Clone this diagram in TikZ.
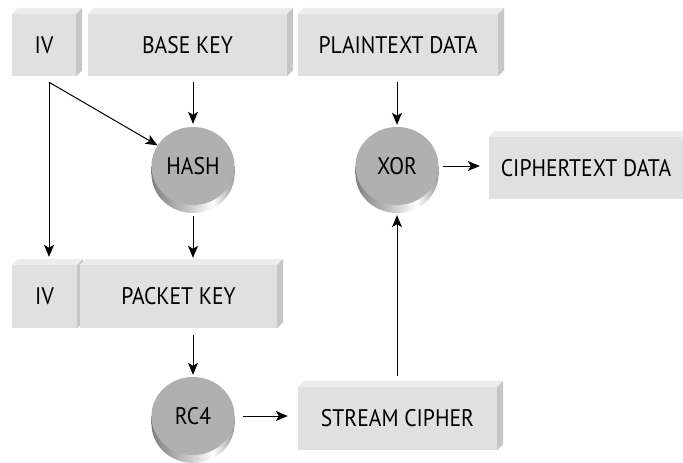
\documentclass[tikz,border=0pt]{standalone}
\usepackage{fontspec}
\setmainfont{PT Sans}[FakeStretch=0.9]
\usetikzlibrary{positioning, shapes.geometric, arrows.meta, backgrounds}
\definecolor{slabfront}{RGB}{224,224,224}
\definecolor{slabtop}{RGB}{236,236,236}
\definecolor{slabside}{RGB}{198,198,198}
\definecolor{disctop}{RGB}{176,176,176}
\pgfdeclarehorizontalshading{discside}{100bp}{color(0bp)=(black!50); color(25bp)=(black!50); color(45bp)=(black!25); color(62bp)=(white); color(75bp)=(black!40); color(100bp)=(black!40)}

\begin{document}
\begin{tikzpicture}[x=1pt, y=-1pt]
            \tikzset{slab/.style = {rectangle, fill=slabfront, minimum height=62pt, inner sep=0pt, font=\fontsize{24}{28}\selectfont}}
            \tikzset{disc/.style = {ellipse, fill=disctop, minimum width=83pt, minimum height=78pt, inner sep=0pt, font=\fontsize{24}{28}\selectfont}}
            \tikzset{edge/.style = {-{Stealth[length=12pt,width=10pt,inset=3pt]}, line width=1pt}}

            \clip (0,0) rectangle (683,463);

            % key side
            \node[slab, minimum width=64pt] (iv) at (44,45) {IV};
            \node[slab, minimum width=199pt] (base) at (187.5,45) {BASE KEY};
            \node[disc] (hash) at (193,166) {HASH};
            \node[slab, minimum width=65pt, minimum height=63pt] (ivb) at (44.5,296.5) {IV};
            \node[slab, minimum width=197pt, minimum height=63pt] (packet) at (178.5,296.5) {PACKET KEY};
            \node[disc] (rc4) at (193,416) {RC4};

            % data side
            \node[slab, minimum width=200pt] (plain) at (398,45) {PLAINTEXT DATA};
            \node[disc] (xor) at (397,166) {XOR};
            \node[slab, minimum width=194pt] (cipher) at (586,168) {CIPHERTEXT DATA};
            \node[slab, minimum width=199pt, minimum height=63pt] (stream) at (397.5,418.5) {STREAM CIPHER};

            % 3d faces
            \begin{scope}[on background layer]
            \foreach \n in {iv,base,plain,cipher,ivb,packet,stream} {
                \fill[slabtop] (\n.north west) -- ++(6,-6) -- ([xshift=6pt,yshift=6pt]\n.north east) -- (\n.north east) -- cycle;
                \fill[slabside] (\n.north east) -- ++(6,-6) -- ([xshift=6pt,yshift=6pt]\n.south east) -- (\n.south east) -- cycle;
            }
            \foreach \n in {hash,xor,rc4} {
                \shade[shading=discside] (\n.west) rectangle ([yshift=-8pt]\n.east);
                \shade[shading=discside] ([yshift=-8pt]\n.center) ellipse [x radius=41.5pt, y radius=39pt];
            }
            \end{scope}

            % arrows
            \coordinate (ivout) at ([xshift=5pt,yshift=-6pt]iv.south);
            \draw[edge] (ivout) -- (hash);
            \draw[edge,shorten >=8pt] (ivout) -- (ivout |- ivb.north);
            \draw[edge,shorten <=6pt,shorten >=3pt] (base.south -| hash) -- (hash);
            \draw[edge,shorten <=11pt,shorten >=7pt] (hash) -- (hash |- packet.north);
            \draw[edge,shorten <=7pt,shorten >=2pt] (packet.south -| rc4) -- (rc4);
            \draw[edge,shorten <=8pt,shorten >=10pt] (rc4.east) -- (stream.west |- rc4);
            \draw[edge,shorten <=11pt,shorten >=10pt] (stream.north -| xor) -- (xor.south);
            \draw[edge,shorten <=6pt,shorten >=2pt] (plain.south -| xor) -- (xor);
            \draw[edge,shorten <=4.5pt,shorten >=9pt] (xor.east) -- (cipher.west |- xor);
\end{tikzpicture}
\end{document}
